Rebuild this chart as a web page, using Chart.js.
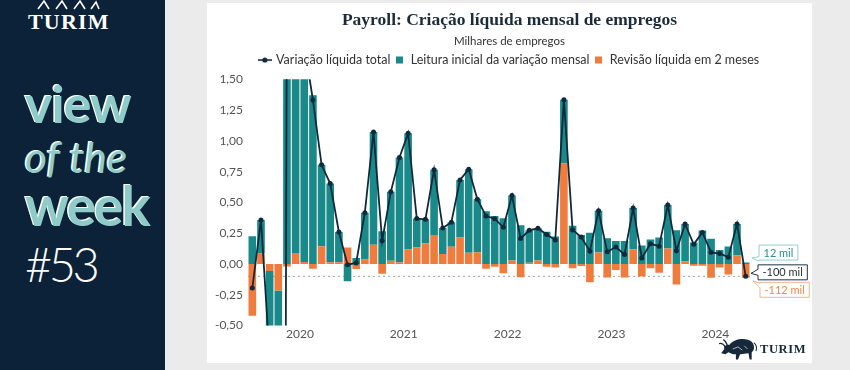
<!DOCTYPE html>
<html lang="pt-BR">
<head>
<meta charset="utf-8">
<title>Payroll</title>
<script src="https://cdn.jsdelivr.net/npm/chart.js@4.4.1/dist/chart.umd.min.js"></script>
<style>
  html, body { margin: 0; padding: 0; }
  body { width: 850px; height: 370px; background: #ebebeb; position: relative; overflow: hidden; font-family: Lato, sans-serif; }
  #painel { position: absolute; left: 0; top: 0; width: 165px; height: 370px; background: #0b2238; z-index: 2; }
  #painel div { position: absolute; left: 25px; line-height: 1; white-space: nowrap; }
  #marca { font-family: "Liberation Serif", serif; font-weight: bold; font-size: 22px; letter-spacing: 1.2px; color: #fff; top: 11px; left: 28px !important; }
  .verde { color: #8fcbc8; text-shadow: -1.5px -1px 0 #ffffff; }
  #v1 { font-weight: 700; font-size: 52px; letter-spacing: -1px; top: 77px; }
  #v2 { font-style: italic; font-size: 42.5px; top: 136px; }
  #v3 { font-weight: 700; font-size: 55px; letter-spacing: -2px; top: 178px; }
  #v4 { font-weight: 300; font-size: 47px; letter-spacing: -3.5px; color: #fff; top: 241px; }
  #chifres { position: absolute; left: 36px; top: 0; }
  #card { position: absolute; left: 207px; top: 3px; width: 605px; height: 360px; background: #fff; }
  #grafico { position: absolute; left: 207px; top: 3px; width: 605px; height: 360px; z-index: 1; }
  #touro { position: absolute; left: 718px; top: 336px; z-index: 3; }
  #marca2 { position: absolute; left: 760px; top: 343px; z-index: 3; font-family: "Liberation Serif", serif; font-weight: bold; font-size: 12.5px; letter-spacing: 0.6px; color: #16293b; line-height: 1; }
</style>
</head>
<body>
<div id="painel">
  <svg id="chifres" width="64" height="10" viewBox="0 0 64 10">
    <polyline points="2,9 8,1 13,9" fill="none" stroke="#fff" stroke-width="1.6"/>
    <polyline points="20,9 26,1 31,9" fill="none" stroke="#fff" stroke-width="1.6"/>
    <polyline points="38,9 44,1 49,9" fill="none" stroke="#fff" stroke-width="1.6"/>
    <polyline points="55,9 60,2 63,9" fill="none" stroke="#fff" stroke-width="1.6"/>
  </svg>
  <div id="marca">TURIM</div>
  <div id="v1" class="verde">view</div>
  <div id="v2" class="verde">of the</div>
  <div id="v3" class="verde">week</div>
  <div id="v4">#53</div>
</div>
<div id="card"></div>
<div id="grafico"><canvas id="c"></canvas></div>
<svg id="touro" width="40" height="26" viewBox="0 0 38 24">
  <path d="M11 8 C15 2 27 1 32 5 C35 8 35 13 32 15 L32 22 L30 22 L29 16 L21 17 L19 22 L17 22 L17 17 C14 17 12 16 10 15 L7 17 L3 16 L6 12 C5 10 7 8 11 8 Z" fill="#16293b"/>
  <path d="M7 10 C5 7 3 6 1 7 M9 9 C8 6 7 4 5 3" fill="none" stroke="#16293b" stroke-width="1.3"/>
  <path d="M34 6 C37 8 37 12 36 14" fill="none" stroke="#16293b" stroke-width="1"/>
  <path d="M14 12 L19 10 L23 13 M25 9 L28 12" fill="none" stroke="#ffffff" stroke-width="0.6"/>
</svg>
<div id="marca2">TURIM</div>
<script>
// meses de referência do payroll
const meses = [
  '2020-01','2020-02','2020-03','2020-04','2020-05','2020-06','2020-07','2020-08','2020-09','2020-10','2020-11','2020-12',
  '2021-01','2021-02','2021-03','2021-04','2021-05','2021-06','2021-07','2021-08','2021-09','2021-10','2021-11','2021-12',
  '2022-01','2022-02','2022-03','2022-04','2022-05','2022-06','2022-07','2022-08','2022-09','2022-10','2022-11','2022-12',
  '2023-01','2023-02','2023-03','2023-04','2023-05','2023-06','2023-07','2023-08','2023-09','2023-10','2023-11','2023-12',
  '2024-01','2024-02','2024-03','2024-04','2024-05','2024-06','2024-07','2024-08','2024-09','2024-10'
];
const anos = ['2020', '2021', '2022', '2023', '2024'];

// leitura inicial (milhões)
const leituraInicial = [
  0.225, 0.273, -0.701, -20.5, 2.509, 4.8, 1.763, 1.371, 0.661, 0.638, 0.245, -0.140,
  0.049, 0.379, 0.916, 0.266, 0.559, 0.850, 0.943, 0.235, 0.194, 0.531, 0.210, 0.199,
  0.467, 0.678, 0.431, 0.428, 0.390, 0.372, 0.528, 0.315, 0.263, 0.261, 0.263, 0.223,
  0.517, 0.311, 0.236, 0.253, 0.339, 0.209, 0.187, 0.187, 0.336, 0.150, 0.199, 0.216,
  0.353, 0.275, 0.303, 0.175, 0.272, 0.206, 0.114, 0.142, 0.254, 0.012
];
// revisão dos 2 meses anteriores
const revisao2m = [
  -0.420, 0.085, -0.057, -0.214, -0.020, 0.090, 0.017, -0.039, 0.145, 0.015, 0.015, 0.135,
  -0.040, 0.038, 0.156, -0.078, 0.027, 0.015, 0.119, 0.134, 0.169, 0.235, 0.082, 0.141,
  0.216, 0.092, 0.095, -0.039, -0.022, -0.074, 0.028, -0.107, 0.011, 0.029, -0.023, -0.028,
  0.817, -0.034, -0.017, -0.149, 0.093, -0.110, -0.049, -0.110, 0.119, -0.101, -0.035, -0.071,
  0.126, -0.167, 0.022, -0.015, -0.015, -0.111, -0.029, -0.086, 0.072, -0.112
];
// variação líquida total
const variacaoTotal = [
  -0.195, 0.358, -0.758, -20.714, 2.489, 4.890, 1.780, 1.332, 0.806, 0.653, 0.260, -0.005,
  0.009, 0.417, 1.072, 0.188, 0.586, 0.865, 1.062, 0.369, 0.363, 0.766, 0.292, 0.340,
  0.683, 0.770, 0.526, 0.389, 0.368, 0.298, 0.556, 0.208, 0.274, 0.290, 0.240, 0.195,
  1.334, 0.277, 0.219, 0.104, 0.432, 0.099, 0.138, 0.077, 0.455, 0.049, 0.164, 0.145,
  0.479, 0.108, 0.325, 0.160, 0.257, 0.095, 0.085, 0.056, 0.326, -0.100
];

const AZUL = '#10293d';
const TEAL = '#19898a';
const LARANJA = '#ef7b3d';

Chart.defaults.font.family = 'Lato';
Chart.defaults.color = '#4a4a4a';

// marcador da legenda: linha com ponto
const marcador = document.createElement('canvas');
marcador.width = 14;
marcador.height = 6;
const mc = marcador.getContext('2d');
mc.strokeStyle = AZUL;
mc.lineWidth = 1.6;
mc.beginPath(); mc.moveTo(0, 3); mc.lineTo(14, 3); mc.stroke();
mc.fillStyle = AZUL;
mc.beginPath(); mc.arc(7, 3, 2.6, 0, Math.PI * 2); mc.fill();

// espaço entre legenda e gráfico
const espacador = {
  id: 'espacador',
  beforeInit(chart) {
    Chart.layouts.addBox(chart, {
      position: 'top', weight: 500, fullSize: true, options: {},
      isHorizontal() { return true; },
      update(w) { this.width = w; this.height = 3; },
      draw() {}
    });
  }
};

// título, subtítulo e legenda centrados no cartão
const centralizar = {
  id: 'centralizar',
  afterLayout(chart) {
    chart.boxes.filter(b => b.position === 'top').forEach(b => {
      const w = b.right - b.left;
      b.left = (chart.width - w) / 2;
      b.right = b.left + w;
    });
  }
};

function bolha(ctx, x, yc, w, h, px, py, b0, b1) {
  const top = yc - h / 2, bot = yc + h / 2;
  ctx.beginPath();
  ctx.moveTo(x, top);
  ctx.lineTo(x + w, top);
  ctx.lineTo(x + w, bot);
  ctx.lineTo(x, bot);
  ctx.lineTo(x, b1);
  ctx.lineTo(px, py);
  ctx.lineTo(x, b0);
  ctx.closePath();
}

const anotacoes = {
  id: 'anotacoes',
  beforeDatasetsDraw(chart) {
    const {ctx, chartArea: a, scales: {y}} = chart;
    const py = y.getPixelForValue(variacaoTotal[variacaoTotal.length - 1]);
    ctx.save();
    ctx.strokeStyle = '#a0a0a0';
    ctx.lineWidth = 1;
    ctx.setLineDash([2, 3]);
    ctx.beginPath(); ctx.moveTo(a.left, py); ctx.lineTo(a.right, py); ctx.stroke();
    ctx.restore();
  },
  afterDatasetsDraw(chart) {
    const {ctx, chartArea: a, scales: {y}} = chart;
    const n = meses.length - 1;
    const r = a.right;
    const itens = [
      {v: leituraInicial[n], borda: '#92cfcf', cor: '#2b8f8f', dy: -10, px: 2, py: -4.5, b: [4, 8.5], x: 9},
      {v: variacaoTotal[n], borda: '#1d3446', cor: '#1d2b36', dy: -4, px: 1, py: -3, b: [-3, 3], x: 8},
      {v: revisao2m[n], borda: '#f5b58e', cor: '#ef8752', dy: 12, px: 3, py: 3, b: [-6.5, -2], x: 10}
    ];
    ctx.save();
    ctx.font = '11px Lato';
    ctx.textBaseline = 'middle';
    itens.forEach(it => {
      const yv = y.getPixelForValue(it.v);
      const txt = Math.round(it.v * 1000) + ' mil';
      const w = ctx.measureText(txt).width + 9;
      const h = 15;
      const yc = yv + it.dy;
      bolha(ctx, r + it.x, yc, w, h, r + it.px, yv + it.py, yc + it.b[0], yc + it.b[1]);
      ctx.fillStyle = '#fff';
      ctx.fill();
      ctx.strokeStyle = it.borda;
      ctx.lineWidth = 1;
      ctx.stroke();
      ctx.fillStyle = it.cor;
      ctx.textAlign = 'left';
      ctx.fillText(txt, r + it.x + 4.5, yc + 0.5);
    });
    ctx.restore();
  }
};

new Chart(document.getElementById('c'), {
  type: 'bar',
  data: {
    labels: meses,
    datasets: [
      {
        type: 'line', label: 'Variação líquida total', data: variacaoTotal,
        borderColor: AZUL, backgroundColor: AZUL, borderWidth: 1.8,
        pointRadius: 2.5, pointBackgroundColor: AZUL, pointBorderWidth: 0,
        tension: 0, order: 0, clip: 0
      },
      {
        label: 'Leitura inicial da variação mensal', data: leituraInicial,
        backgroundColor: TEAL, order: 2, clip: 0,
        barPercentage: 0.88, categoryPercentage: 1
      },
      {
        label: 'Revisão líquida em 2 meses', data: revisao2m,
        backgroundColor: LARANJA, order: 1, clip: 0,
        barPercentage: 0.88, categoryPercentage: 1
      }
    ]
  },
  options: {
    responsive: true,
    maintainAspectRatio: false,
    animation: false,
    events: [],
    layout: { padding: { left: 6, right: 62, top: 0, bottom: 21 } },
    plugins: {
      title: {
        display: true,
        text: 'Payroll: Criação líquida mensal de empregos',
        color: '#1b2b3a',
        font: { family: 'Liberation Serif', size: 17.5, weight: 'bold' },
        padding: { top: 6.5, bottom: 2 }
      },
      subtitle: {
        display: true,
        text: 'Milhares de empregos',
        color: '#333',
        font: { size: 11.5 },
        padding: { top: 1.6, bottom: 1.9 }
      },
      legend: {
        labels: {
          usePointStyle: true,
          boxWidth: 10,
          boxHeight: 7,
          padding: 4,
          color: '#333',
          font: { size: 12.5 },
          sort: (a, b) => a.datasetIndex - b.datasetIndex,
          generateLabels(chart) {
            const itens = Chart.defaults.plugins.legend.labels.generateLabels(chart);
            itens.forEach(it => {
              it.pointStyle = it.datasetIndex === 0 ? marcador : 'rect';
              it.lineWidth = 0;
            });
            return itens;
          }
        }
      },
      tooltip: { enabled: false }
    },
    scales: {
      x: {
        stacked: true,
        grid: { display: false, drawTicks: false },
        border: { display: false },
        afterBuildTicks(s) {
          s.ticks = anos.map(a => ({ value: meses.indexOf(a + '-07') - 0.5 }));
        },
        ticks: {
          autoSkip: false, maxRotation: 0, padding: 1,
          color: '#555', font: { size: 12 },
          callback: (v, i) => anos[i]
        }
      },
      y: {
        stacked: true,
        min: -0.5,
        max: 1.5,
        grid: { display: false, drawTicks: false },
        border: { display: false },
        afterFit(s) { s.width = 35; },
        ticks: {
          stepSize: 0.25, padding: 5,
          color: '#555', font: { size: 12 },
          callback: v => v.toFixed(2).replace('.', ',')
        }
      }
    }
  },
  plugins: [espacador, centralizar, anotacoes]
});
</script>
</body>
</html>
